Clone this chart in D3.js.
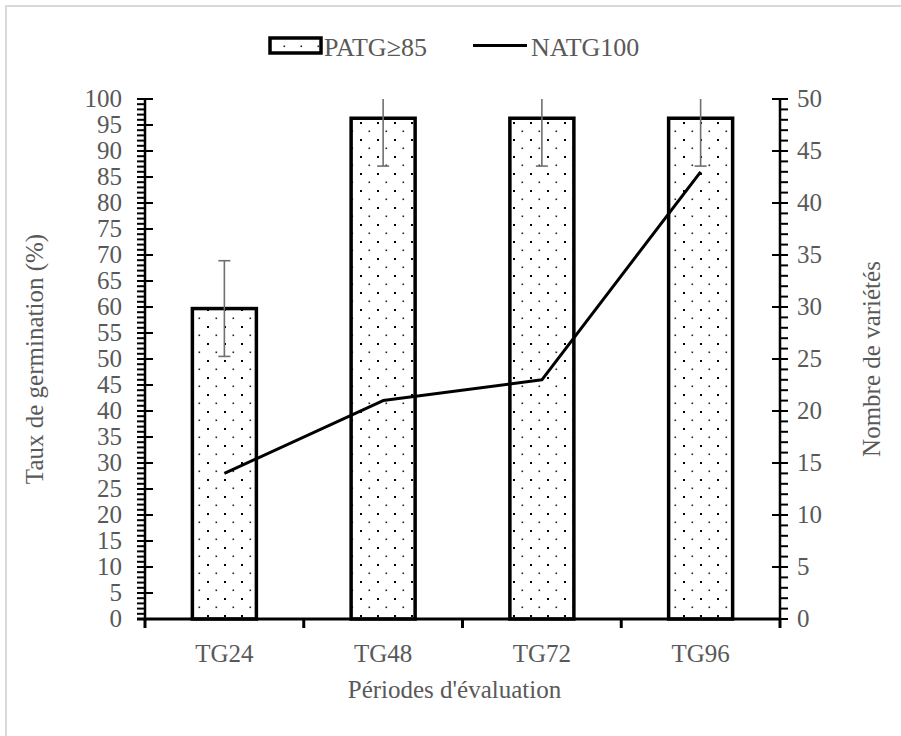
<!DOCTYPE html>
<html>
<head>
<meta charset="utf-8">
<script src="https://d3js.org/d3.v7.min.js"></script>
<style>
  body { margin: 0; background: #fff; }
  svg { font-family: "Liberation Serif", "Times New Roman", serif; }
  .lbl { fill: #595959; }
</style>
</head>
<body>
<div id="chart"></div>
<script>
// ---- data ----
var periods = ["TG24", "TG48", "TG72", "TG96"];
var patg = [59.7, 96.3, 96.3, 96.3];      // PATG>=85 (%), left axis
var patgErr = [9.2, 9.2, 9.2, 9.2];       // error bar half-width
var natg = [14, 21, 23, 43];              // NATG100, right axis
var leftTicks = d3.range(0, 101, 5);
var rightTicks = d3.range(0, 51, 5);

var width = 901, height = 736;
var margin = { top: 99, right: 121, bottom: 117, left: 145 };

var svg = d3.select("#chart").append("svg")
  .attr("width", width).attr("height", height);

// chart border
svg.append("rect")
  .attr("x", 6).attr("y", 6)
  .attr("width", 920).attr("height", 760)
  .attr("fill", "none").attr("stroke", "#d9d9d9").attr("stroke-width", 2);

// dotted fill pattern
var defs = svg.append("defs");
var pat = defs.append("pattern")
  .attr("id", "dots").attr("patternUnits", "userSpaceOnUse")
  .attr("width", 17).attr("height", 17);
pat.append("rect").attr("width", 17).attr("height", 17).attr("fill", "#fff");
pat.append("rect").attr("x", 3).attr("y", 3).attr("width", 2).attr("height", 2).attr("fill", "#000");
pat.append("rect").attr("x", 11.5).attr("y", 11.5).attr("width", 1.6).attr("height", 1.6).attr("fill", "#222");

var x = d3.scaleBand().domain(periods)
  .range([margin.left, width - margin.right]).paddingInner(0).paddingOuter(0);
var yL = d3.scaleLinear().domain([0, 100]).range([height - margin.bottom, margin.top]);
var yR = d3.scaleLinear().domain([0, 50]).range([height - margin.bottom, margin.top]);

var x0 = margin.left, x1 = width - margin.right, yb = height - margin.bottom;
var barW = 64;

// bars
svg.append("g").selectAll("rect.bar")
  .data(periods).enter().append("rect")
  .attr("class", "bar")
  .attr("x", d => x(d) + x.bandwidth() / 2 - barW / 2)
  .attr("y", (d, i) => yL(patg[i]))
  .attr("width", barW)
  .attr("height", (d, i) => yb - yL(patg[i]))
  .attr("fill", "url(#dots)")
  .attr("stroke", "#000").attr("stroke-width", 3.5);

// error bars (clipped at 100)
var eb = svg.append("g").attr("stroke", "#6f6f6f").attr("stroke-width", 1.6);
periods.forEach(function (p, i) {
  var cx = x(p) + x.bandwidth() / 2;
  var hi = Math.min(100, patg[i] + patgErr[i]), lo = patg[i] - patgErr[i];
  eb.append("line").attr("x1", cx).attr("x2", cx).attr("y1", yL(hi)).attr("y2", yL(lo));
  eb.append("line").attr("x1", cx - 6).attr("x2", cx + 6).attr("y1", yL(lo)).attr("y2", yL(lo));
  if (patg[i] + patgErr[i] <= 100)
    eb.append("line").attr("x1", cx - 6).attr("x2", cx + 6).attr("y1", yL(hi)).attr("y2", yL(hi));
});

// line
var line = d3.line()
  .x((d, i) => x(periods[i]) + x.bandwidth() / 2)
  .y(d => yR(d));
svg.append("path").datum(natg)
  .attr("fill", "none").attr("stroke", "#000").attr("stroke-width", 3)
  .attr("stroke-linejoin", "round")
  .attr("d", line);

// axes
var ax = svg.append("g").attr("stroke", "#000");
// left axis
ax.append("line").attr("x1", x0).attr("x2", x0).attr("y1", yL(100) - 1).attr("y2", yb + 1.5).attr("stroke-width", 2.5);
d3.range(0, 101, 1).forEach(function (v) {
  var major = v % 5 === 0;
  ax.append("line")
    .attr("x1", x0 - 8).attr("x2", major ? x0 + 8 : x0)
    .attr("y1", yL(v)).attr("y2", yL(v)).attr("stroke-width", 2);
});
// right axis
ax.append("line").attr("x1", x1).attr("x2", x1).attr("y1", yR(50) - 1).attr("y2", yb + 1.5).attr("stroke-width", 2.5);
d3.range(0, 51, 1).forEach(function (v) {
  var major = v % 5 === 0;
  ax.append("line")
    .attr("x1", major ? x1 - 8 : x1).attr("x2", x1 + 8)
    .attr("y1", yR(v)).attr("y2", yR(v)).attr("stroke-width", 2);
});
// bottom axis
ax.append("line").attr("x1", x0 - 8).attr("x2", x1 + 1).attr("y1", yb).attr("y2", yb).attr("stroke-width", 3);
periods.concat(["end"]).forEach(function (p, i) {
  var tx = i < periods.length ? x(p) : x1;
  ax.append("line").attr("x1", tx).attr("x2", tx).attr("y1", yb).attr("y2", yb + 9).attr("stroke-width", 3);
});

// tick labels
var fs = 25;
svg.append("g").selectAll("text").data(leftTicks).enter().append("text")
  .attr("class", "lbl").attr("x", x0 - 23).attr("y", d => yL(d) + 8)
  .attr("text-anchor", "end").style("font-size", fs + "px").text(d => d);
svg.append("g").selectAll("text").data(rightTicks).enter().append("text")
  .attr("class", "lbl").attr("x", x1 + 17).attr("y", d => yR(d) + 8)
  .attr("text-anchor", "start").style("font-size", fs + "px").text(d => d);
svg.append("g").selectAll("text").data(periods).enter().append("text")
  .attr("class", "lbl").attr("x", d => x(d) + x.bandwidth() / 2).attr("y", yb + 43)
  .attr("text-anchor", "middle").style("font-size", fs + "px").text(d => d);

// axis titles
svg.append("text").attr("class", "lbl")
  .attr("transform", "translate(43," + ((margin.top + yb) / 2) + ") rotate(-90)")
  .attr("text-anchor", "middle").style("font-size", fs + "px").text("Taux de germination (%)");
svg.append("text").attr("class", "lbl")
  .attr("transform", "translate(880," + ((margin.top + yb) / 2) + ") rotate(-90)")
  .attr("text-anchor", "middle").style("font-size", fs + "px").text("Nombre de variétés");
svg.append("text").attr("class", "lbl")
  .attr("x", (x0 + x1) / 2 - 8).attr("y", 698)
  .attr("text-anchor", "middle").style("font-size", fs + "px").text("Périodes d'évaluation");

// legend
var lg = svg.append("g");
lg.append("rect").attr("x", 270).attr("y", 38).attr("width", 51).attr("height", 15)
  .attr("fill", "url(#dots)").attr("stroke", "#000").attr("stroke-width", 3.5);
lg.append("text").attr("class", "lbl").attr("x", 324).attr("y", 56)
  .style("font-size", "26px").text("PATG≥85");
lg.append("line").attr("x1", 473).attr("x2", 527).attr("y1", 45.5).attr("y2", 45.5)
  .attr("stroke", "#000").attr("stroke-width", 3);
lg.append("text").attr("class", "lbl").attr("x", 531).attr("y", 56)
  .style("font-size", "26px").text("NATG100");
</script>
</body>
</html>
